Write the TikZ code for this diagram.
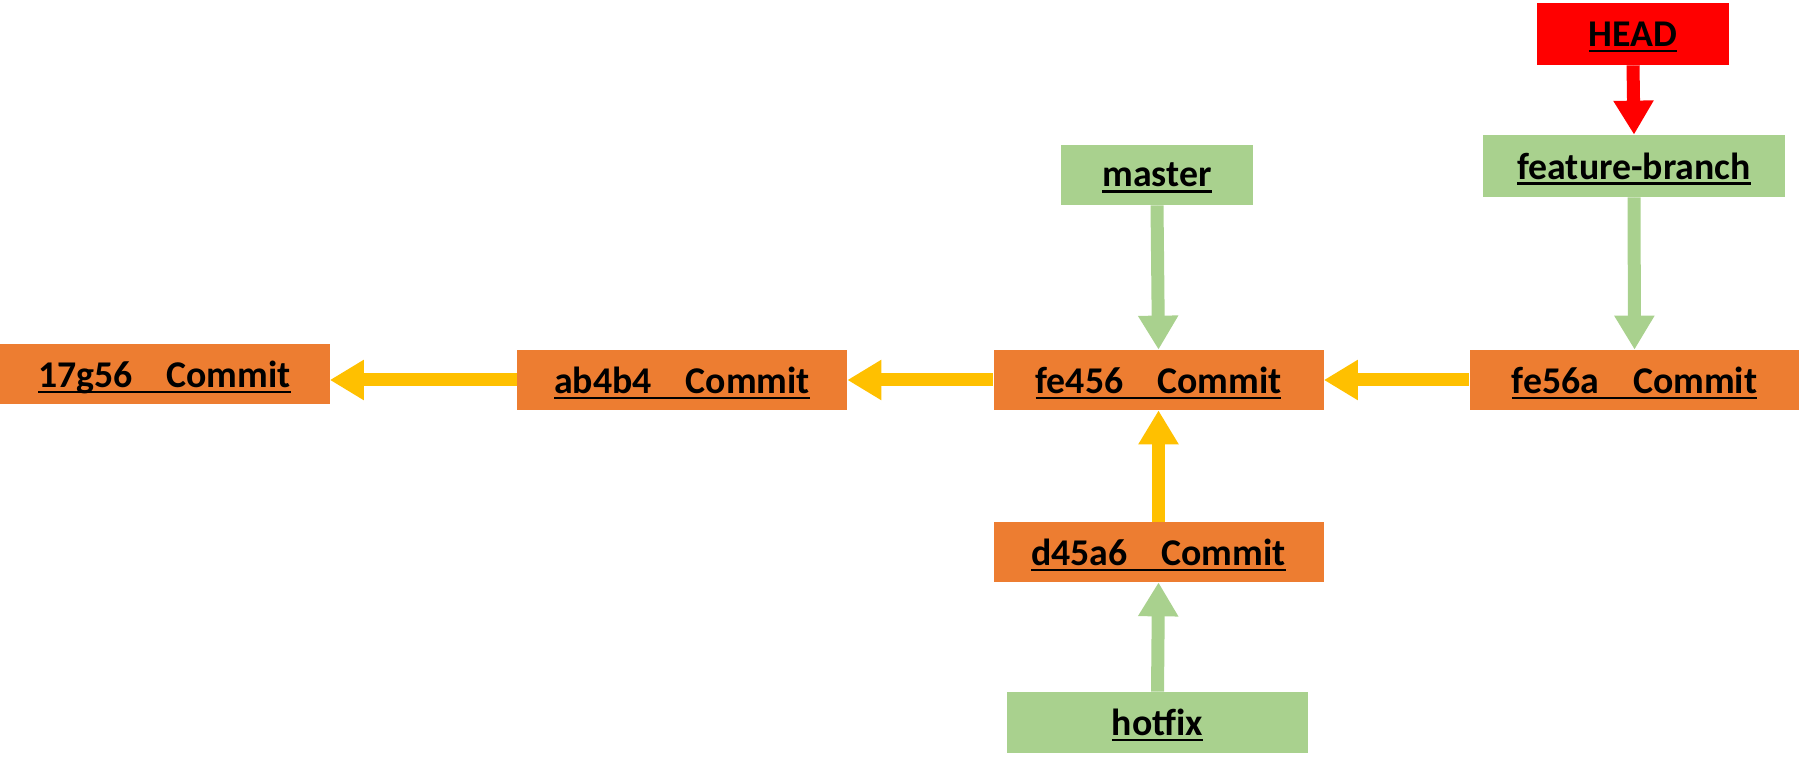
\documentclass[tikz,border=0pt]{standalone}
\usepackage{fontspec}
\setmainfont{Carlito}
\usetikzlibrary{arrows.meta}

\definecolor{commitorange}{HTML}{ED7D31}
\definecolor{branchgreen}{HTML}{A9D18E}
\definecolor{linkyellow}{HTML}{FFC000}
\definecolor{headred}{HTML}{FF0000}

% underlined label, line at a fixed depth below the baseline
\newcommand{\ulabel}[1]{\setbox0\hbox{#1}\rlap{\smash{\rule[-3.3pt]{\wd0}{1.4pt}}}\box0}
\newcommand{\cgap}{\hspace{0.9em}}

\begin{document}
\begin{tikzpicture}[
		font=\fontsize{21.5}{25}\selectfont\bfseries,
		commit/.style={rectangle, fill=commitorange, minimum width=6.6cm, minimum height=1.2cm, inner sep=0pt, text depth=0pt},
		branch/.style={rectangle, fill=branchgreen, minimum height=1.2cm, inner sep=0pt},
		link/.style={-{Triangle[length=0.68cm, width=0.76cm]}, line width=0.26cm, draw=linkyellow, fill=linkyellow},
		pointer/.style={-{Triangle[length=0.68cm, width=0.76cm]}, line width=0.26cm, draw=branchgreen, fill=branchgreen}
	]
	\useasboundingbox (0,0) rectangle (35.98,15.36);

	% Commits
	\node[commit] (c17g56) at (3.29,7.88) {\ulabel{17g56\cgap Commit}};
	\node[commit] (ab4b4) at (13.64,7.76) {\ulabel{ab4b4\cgap Commit}};
	\node[commit] (fe456) at (23.17,7.76) {\ulabel{fe456\cgap Commit}};
	\node[commit] (fe56a) at (32.69,7.76) {\ulabel{fe56a\cgap Commit}};
	\node[commit] (d45a6) at (23.17,4.32) {\ulabel{d45a6\cgap Commit}};

	% Parent links
	\draw[link] (ab4b4.west) -- (ab4b4.west -| c17g56.east);
	\draw[link] (fe456.west) -- (ab4b4.east);
	\draw[link] (fe56a.west) -- (fe456.east);
	\draw[link] (d45a6.north) -- (fe456.south);

	% Branches
	\node[branch, minimum width=3.84cm] (master) at (23.14,11.86) {\ulabel{master}};
	\node[branch, minimum width=6.04cm, minimum height=1.24cm] (feature) at (32.68,12.04) {\ulabel{feature-branch}};
	\node[branch, minimum width=6.02cm, minimum height=1.22cm] (hotfix) at (23.15,0.91) {\ulabel{hotfix}};
	\draw[pointer] (master.south) -- (fe456.north);
	\draw[pointer] (feature.south) -- (fe56a.north);
	\draw[pointer] (hotfix.north) -- (d45a6.south);

	% HEAD
	\node[rectangle, fill=headred, minimum width=3.84cm, minimum height=1.24cm] (head) at (32.66,14.68) {\ulabel{HEAD}};
	\draw[-{Triangle[length=0.68cm, width=0.76cm]}, line width=0.26cm, draw=headred, fill=headred] (head.south) -- (feature.north);
\end{tikzpicture}
\end{document}
